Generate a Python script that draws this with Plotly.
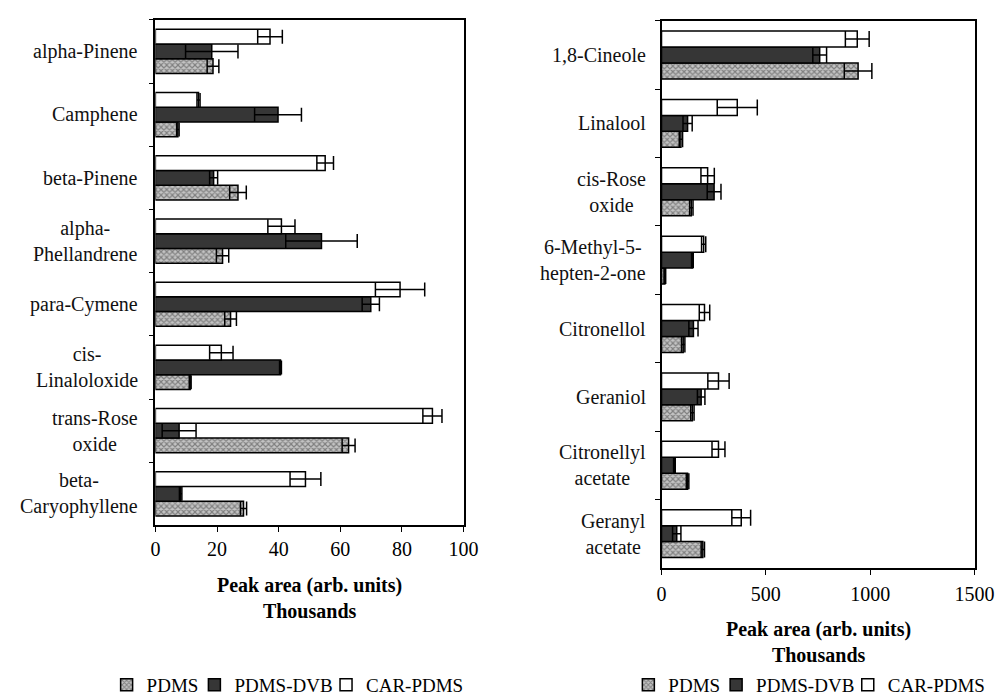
import plotly.graph_objects as go

# ---------------- data ----------------
left_categories = ["alpha-Pinene", "Camphene", "beta-Pinene", "alpha-Phellandrene",
                   "para-Cymene", "cis-Linaloloxide", "trans-Rose oxide", "beta-Caryophyllene"]
left_labels = ["alpha-Pinene", "Camphene", "beta-Pinene", "alpha-<br>Phellandrene",
               "para-Cymene", "cis-<br>Linaloloxide", "trans-Rose<br>oxide", "beta-<br>Caryophyllene"]
left_pdms = [18.7, 7.3, 26.8, 21.8, 24.4, 11.3, 62.7, 28.6]
left_pdms_err = [1.9, 0.4, 2.7, 2.0, 1.9, 0.3, 2.1, 1.0]
left_dvb = [18.3, 39.8, 18.9, 53.9, 69.9, 40.6, 7.7, 8.2]
left_dvb_err = [8.5, 7.6, 1.3, 11.6, 2.8, 0.3, 5.5, 0.4]
left_car = [37.2, 14.0, 55.1, 40.9, 79.4, 21.4, 89.9, 48.7]
left_car_err = [4.0, 0.5, 2.7, 4.4, 8.0, 3.8, 3.1, 5.0]

right_categories = ["1,8-Cineole", "Linalool", "cis-Rose oxide", "6-Methyl-5-hepten-2-one",
                    "Citronellol", "Geraniol", "Citronellyl acetate", "Geranyl acetate"]
right_labels = ["1,8-Cineole", "Linalool", "cis-Rose<br>oxide", "6-Methyl-5-<br>hepten-2-one",
                "Citronellol", "Geraniol", "Citronellyl<br>acetate", "Geranyl<br>acetate"]
right_pdms = [942, 93, 143, 16, 104, 148, 125, 198]
right_pdms_err = [66, 8, 8, 4, 8, 8, 6, 8]
right_dvb = [758, 125, 252, 148, 153, 190, 62, 73]
right_dvb_err = [33, 22, 33, 4, 22, 18, 4, 20]
right_car = [938, 363, 221, 202, 206, 273, 273, 382]
right_car_err = [57, 96, 32, 10, 25, 51, 31, 45]

series_names = ["PDMS", "PDMS-DVB", "CAR-PDMS"]
left_x_ticks = [0, 20, 40, 60, 80, 100]
right_x_ticks = [0, 500, 1000, 1500]
axis_title = "<b>Peak area (arb. units)</b><br><b>Thousands</b>"

# ---------------- styles ----------------
FONT = "Liberation Serif, Times New Roman, serif"
FS = 20
LEG_FS = 19
styles = {
    "PDMS": dict(color="#b8b8b8",
                 pattern=dict(shape="x", fgcolor="#3c3c3c", bgcolor="#c4c4c4", size=4, solidity=0.5)),
    "PDMS-DVB": dict(color="#363636"),
    "CAR-PDMS": dict(color="#ffffff"),
}

W, H = 1008, 696
L = dict(x0=146, x1=462, y0=12, y1=525)
R = dict(x0=665, x1=986, y0=13, y1=568)

# pixel x where each legend entry's text starts (left panel, right panel)
left_legend_text_x = [145, 235, 370]
right_legend_text_x = [680, 770, 905]
LEGEND_Y = 687
LEGEND_TEXT_OFFSET = 49

fig = go.Figure()

def add_panel(cats, vals, errs, xaxis, yaxis, legend_ids, capw):
    for name, v, e, lg in zip(series_names, vals, errs, legend_ids):
        m = dict(styles[name])
        m["line"] = dict(color="#000000", width=1.5)
        fig.add_trace(go.Bar(
            y=cats, x=v, orientation="h", name=name,
            marker=m,
            error_x=dict(type="data", array=e, visible=True, color="#000000",
                         thickness=1.5, width=capw),
            xaxis=xaxis, yaxis=yaxis, legend=lg, showlegend=True,
        ))

add_panel(left_categories, [left_pdms, left_dvb, left_car],
          [left_pdms_err, left_dvb_err, left_car_err], "x", "y",
          ["legend", "legend2", "legend3"], 7)
add_panel(right_categories, [right_pdms, right_dvb, right_car],
          [right_pdms_err, right_dvb_err, right_car_err], "x2", "y2",
          ["legend4", "legend5", "legend6"], 8)

def dom_x(p):
    return [p["x0"] / W, p["x1"] / W]

def dom_y(p):
    return [1 - p["y1"] / H, 1 - p["y0"] / H]

axis_common = dict(showline=True, linecolor="#000000", linewidth=1.5, mirror=True,
                   ticks="outside", ticklen=5, tickcolor="#000000", showgrid=False,
                   zeroline=False, tickfont=dict(family=FONT, size=FS, color="#000000"))

def legend_cfg(text_x):
    return dict(orientation="h", x=(text_x - LEGEND_TEXT_OFFSET) / W, xanchor="left",
                y=1 - LEGEND_Y / H, yanchor="middle", itemwidth=30,
                bgcolor="rgba(0,0,0,0)",
                font=dict(family=FONT, size=LEG_FS, color="#000000"))

legend_xs = left_legend_text_x + right_legend_text_x
legend_layout = {}
for i, tx in enumerate(legend_xs):
    key = "legend" if i == 0 else f"legend{i + 1}"
    legend_layout[key] = legend_cfg(tx)

fig.update_layout(
    width=W, height=H,
    margin=dict(l=0, r=0, t=0, b=0),
    paper_bgcolor="#ffffff", plot_bgcolor="#ffffff",
    barmode="group", bargap=0.3, bargroupgap=0,
    font=dict(family=FONT, size=FS, color="#000000"),
    xaxis=dict(domain=dom_x(L), anchor="y", range=[0, 100], tickvals=left_x_ticks,
               ticklabelstandoff=0, **axis_common),
    yaxis=dict(domain=dom_y(L), anchor="x", type="category", categoryorder="array",
               categoryarray=left_categories[::-1], showticklabels=False,
               tickson="boundaries", **axis_common),
    xaxis2=dict(domain=dom_x(R), anchor="y2", range=[0, 1500], tickvals=right_x_ticks,
                ticklabelstandoff=2, **axis_common),
    yaxis2=dict(domain=dom_y(R), anchor="x2", type="category", categoryorder="array",
                categoryarray=right_categories[::-1], showticklabels=False,
                tickson="boundaries", **axis_common),
    **legend_layout,
)

ann = []
for c, lab in zip(left_categories, left_labels):
    ann.append(dict(xref="paper", yref="y", x=130 / W, y=c, text=lab, showarrow=False,
                    xanchor="right", yanchor="middle", align="center",
                    font=dict(family=FONT, size=FS, color="#111111")))
for c, lab in zip(right_categories, right_labels):
    ann.append(dict(xref="paper", yref="y2", x=651 / W, y=c, text=lab, showarrow=False,
                    xanchor="right", yanchor="middle", align="center",
                    font=dict(family=FONT, size=FS, color="#111111")))
ann.append(dict(xref="paper", yref="paper", x=(L["x0"] + L["x1"]) / 2 / W, y=1 - 599 / H,
                text=axis_title, showarrow=False, xanchor="center", yanchor="middle",
                align="center", font=dict(family=FONT, size=FS, color="#000000")))
ann.append(dict(xref="paper", yref="paper", x=(R["x0"] + R["x1"]) / 2 / W, y=1 - 643 / H,
                text=axis_title, showarrow=False, xanchor="center", yanchor="middle",
                align="center", font=dict(family=FONT, size=FS, color="#000000")))
fig.update_layout(annotations=ann)

fig.write_html("out.html")
